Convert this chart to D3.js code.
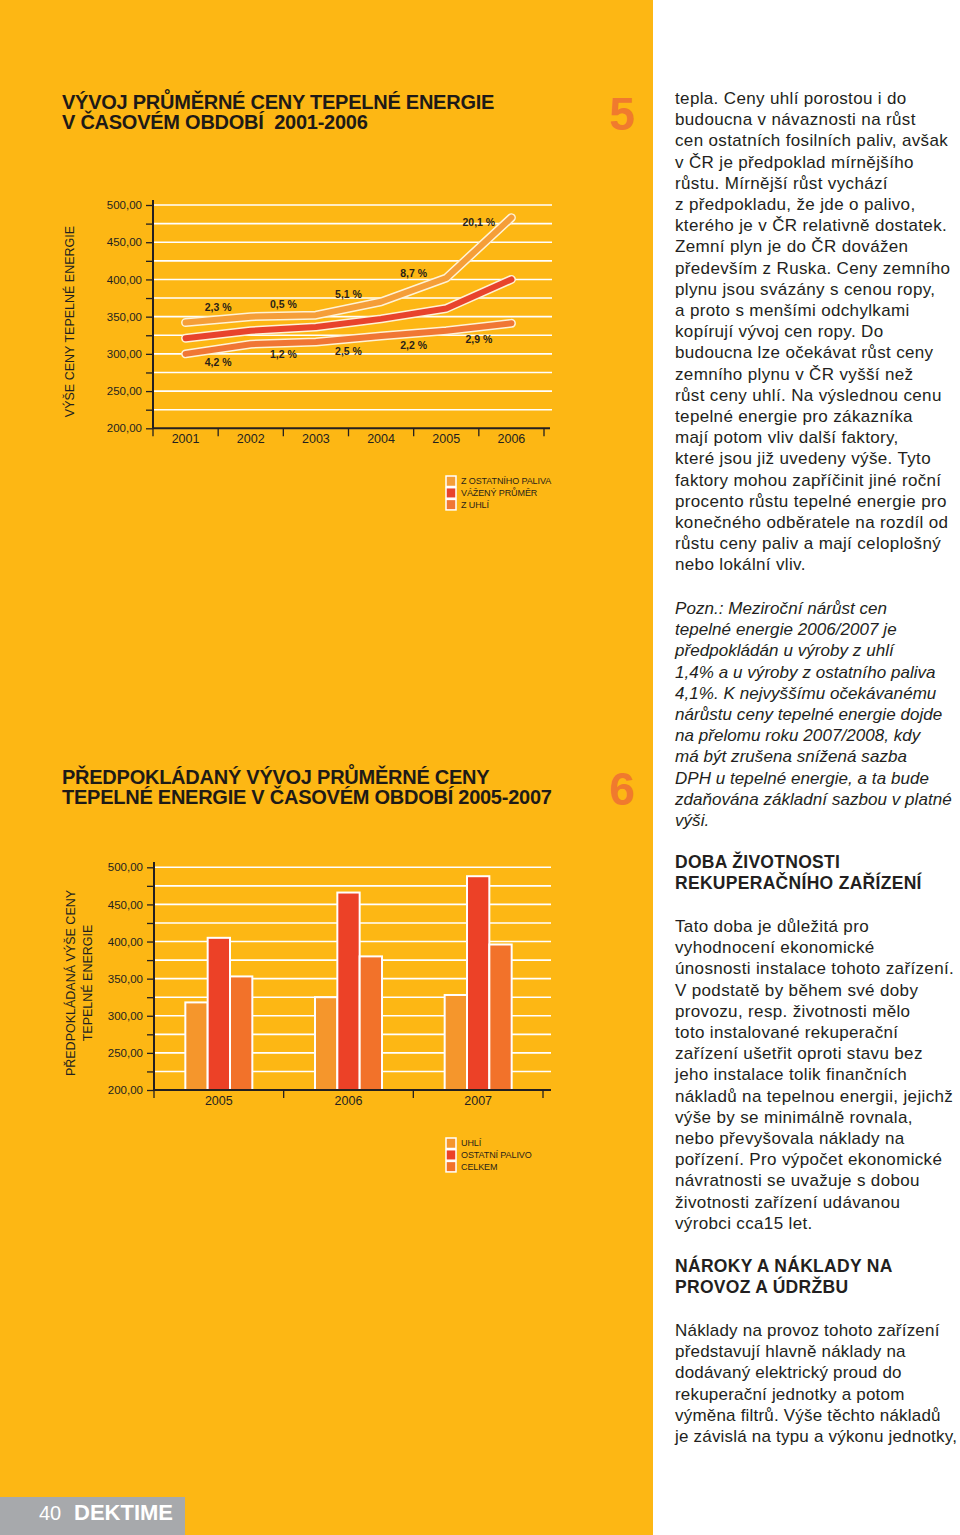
<!DOCTYPE html>
<html>
<head>
<meta charset="utf-8">
<script src="https://cdn.jsdelivr.net/npm/d3@7/dist/d3.min.js"></script>
<style>
html,body{margin:0;padding:0;background:#fff;}
svg{display:block;}
text{font-family:"Liberation Sans",Arial,Helvetica,sans-serif;white-space:pre;}
</style>
</head>
<body>
<script>
// ---------- DATA ----------
const years1 = ["2001","2002","2003","2004","2005","2006"];
const fuelOther = [342,350,352,370,402,483];     // Z OSTATNÍHO PALIVA
const weightedAvg = [321,331,336,347,361,400];   // VÁŽENÝ PRŮMĚR
const coal = [300,313,316,324,331,341];          // Z UHLÍ
const growthOther = ["2,3 %","0,5 %","5,1 %","8,7 %","20,1 %"];
const growthCoal = ["4,2 %","1,2 %","2,5 %","2,2 %","2,9 %"];
const legend1 = ["Z OSTATNÍHO PALIVA","VÁŽENÝ PRŮMĚR","Z UHLÍ"];

const years2 = ["2005","2006","2007"];
const coal2 = [318,325,328];        // UHLÍ
const other2 = [405,466,488];       // OSTATNÍ PALIVO
const total2 = [353,380,396];       // CELKEM
const legend2 = ["UHLÍ","OSTATNÍ PALIVO","CELKEM"];

const yTickValues = [200,250,300,350,400,450,500];
const yMinorValues = [200,225,250,275,300,325,350,375,400,425,450,475,500];

const textBlock1 = [
"tepla. Ceny uhlí porostou i do",
"budoucna v návaznosti na růst",
"cen ostatních fosilních paliv, avšak",
"v ČR je předpoklad mírnějšího",
"růstu. Mírnější růst vychází",
"z předpokladu, že jde o palivo,",
"kterého je v ČR relativně dostatek.",
"Zemní plyn je do ČR dovážen",
"především z Ruska. Ceny zemního",
"plynu jsou svázány s cenou ropy,",
"a proto s menšími odchylkami",
"kopírují vývoj cen ropy. Do",
"budoucna lze očekávat růst ceny",
"zemního plynu v ČR vyšší než",
"růst ceny uhlí. Na výslednou cenu",
"tepelné energie pro zákazníka",
"mají potom vliv další faktory,",
"které jsou již uvedeny výše. Tyto",
"faktory mohou zapříčinit jiné roční",
"procento růstu tepelné energie pro",
"konečného odběratele na rozdíl od",
"růstu ceny paliv a mají celoplošný",
"nebo lokální vliv."
];
const textNote = [
"Pozn.: Meziroční nárůst cen",
"tepelné energie 2006/2007 je",
"předpokládán u výroby z uhlí",
"1,4% a u výroby z ostatního paliva",
"4,1%. K nejvyššímu očekávanému",
"nárůstu ceny tepelné energie dojde",
"na přelomu roku 2007/2008, kdy",
"má být zrušena snížená sazba",
"DPH u tepelné energie, a ta bude",
"zdaňována základní sazbou v platné",
"výši."
];
const heading2 = ["DOBA ŽIVOTNOSTI","REKUPERAČNÍHO ZAŘÍZENÍ"];
const textBlock2 = [
"Tato doba je důležitá pro",
"vyhodnocení ekonomické",
"únosnosti instalace tohoto zařízení.",
"V podstatě by během své doby",
"provozu, resp. životnosti mělo",
"toto instalované rekuperační",
"zařízení ušetřit oproti stavu bez",
"jeho instalace tolik finančních",
"nákladů na tepelnou energii, jejichž",
"výše by se minimálně rovnala,",
"nebo převyšovala náklady na",
"pořízení. Pro výpočet ekonomické",
"návratnosti se uvažuje s dobou",
"životnosti zařízení udávanou",
"výrobci cca15 let."
];
const heading3 = ["NÁROKY A NÁKLADY NA","PROVOZ A ÚDRŽBU"];
const textBlock3 = [
"Náklady na provoz tohoto zařízení",
"představují hlavně náklady na",
"dodávaný elektrický proud do",
"rekuperační jednotky a potom",
"výměna filtrů. Výše těchto nákladů",
"je závislá na typu a výkonu jednotky,"
];

// ---------- STYLE ----------
const W = 960, H = 1535;
const YELLOW = "#FDB714";
const INK = "#231F20";
const C_OTHER = "#F59E38", C_AVG = "#E8432C", C_COAL = "#F07634";
const B_COAL = "#F5962C", B_OTHER = "#EC4127", B_TOTAL = "#F2722A";
const fmt = d => d.toFixed(2).replace(".", ",");

const svg = d3.select("body").append("svg").attr("width", W).attr("height", H);
svg.append("rect").attr("width", W).attr("height", H).attr("fill", "#fff");
svg.append("rect").attr("width", 653).attr("height", H).attr("fill", YELLOW);

// ---------- titles ----------
function lines(g, arr, x, y0, step, opts) {
  arr.forEach((t, i) => {
    const el = g.append("text").attr("x", x).attr("y", y0 + i * step).text(t)
      .attr("fill", opts.fill || INK).attr("font-size", opts.size)
      .attr("font-weight", opts.weight || "normal");
    if (opts.style) el.attr("font-style", opts.style);
    if (opts.ls) el.attr("letter-spacing", opts.ls);
  });
}
lines(svg, ["VÝVOJ PRŮMĚRNÉ CENY TEPELNÉ ENERGIE", "V ČASOVÉM OBDOBÍ  2001-2006"], 62, 109, 19.5,
  {size: 20, weight: "bold", ls: -0.25, fill: "#1e1a17"});
lines(svg, ["PŘEDPOKLÁDANÝ VÝVOJ PRŮMĚRNÉ CENY", "TEPELNÉ ENERGIE V ČASOVÉM OBDOBÍ 2005-2007"], 62, 784, 19.5,
  {size: 20, weight: "bold", ls: -0.25, fill: "#1e1a17"});

svg.append("text").attr("x", 622).attr("y", 130).attr("text-anchor", "middle")
  .attr("font-size", 46).attr("font-weight", "bold").attr("fill", "#F07A2E").text("5");
svg.append("text").attr("x", 622).attr("y", 805).attr("text-anchor", "middle")
  .attr("font-size", 46).attr("font-weight", "bold").attr("fill", "#F07A2E").text("6");

// ---------- common axis helper ----------
function yAxisGrid(g, y, x0, x1, yTop) {
  g.append("g").selectAll("line").data(yMinorValues.filter(v => v > 200)).join("line")
    .attr("x1", x0).attr("x2", x1).attr("y1", d => y(d)).attr("y2", d => y(d))
    .attr("stroke", "#fff").attr("stroke-width", 1.6);
  const ax = g.append("g").attr("transform", `translate(${x0},0)`)
    .call(d3.axisLeft(y).tickValues(yMinorValues).tickSize(7)
      .tickFormat(d => yTickValues.includes(d) ? fmt(d) : ""));
  ax.select(".domain").remove();
  ax.selectAll("line").attr("stroke", INK).attr("stroke-width", 1.3);
  ax.selectAll("text").attr("font-size", 11.5).attr("fill", INK)
    .attr("font-family", "'Liberation Sans',Arial,sans-serif").attr("dx", -1);
  g.append("line").attr("x1", x0).attr("x2", x0).attr("y1", yTop).attr("y2", y(200))
    .attr("stroke", INK).attr("stroke-width", 2);
}
function xAxis(g, x, yBase, xEnd, ticksAt) {
  g.append("line").attr("x1", x.range()[0]).attr("x2", xEnd).attr("y1", yBase).attr("y2", yBase)
    .attr("stroke", INK).attr("stroke-width", 2);
  g.append("g").selectAll("line").data(ticksAt).join("line")
    .attr("x1", d => d).attr("x2", d => d).attr("y1", yBase).attr("y2", yBase + 8)
    .attr("stroke", INK).attr("stroke-width", 1.3);
  g.append("g").selectAll("text").data(x.domain()).join("text")
    .attr("x", d => x(d) + x.bandwidth() / 2).attr("y", yBase + 15)
    .attr("text-anchor", "middle").attr("font-size", 12.5).attr("fill", INK).text(d => d);
}
function legend(g, labels, colors, x, y0) {
  labels.forEach((t, i) => {
    g.append("rect").attr("x", x).attr("y", y0 + i * 11.7 - 5).attr("width", 10).attr("height", 10.5)
      .attr("fill", colors[i]).attr("stroke", "#fff").attr("stroke-width", 1.5);
    g.append("text").attr("x", x + 15).attr("y", y0 + i * 11.7 + 3.3).attr("font-size", 9)
      .attr("letter-spacing", -0.1).attr("fill", "#2a1f18").text(t);
  });
}

// ---------- CHART 1 ----------
const g1 = svg.append("g");
const x1 = d3.scaleBand().domain(years1).range([153, 544]);
const y1 = d3.scaleLinear().domain([200, 500]).range([428.3, 205]);
yAxisGrid(g1, y1, 153, 552, 200);
xAxis(g1, x1, y1(200), 550, years1.map(d => x1(d)).concat([x1.range()[1]]));

g1.append("text").attr("transform", `translate(74,${(225 + 418) / 2}) rotate(-90)`)
  .attr("text-anchor", "middle").attr("font-size", 12.5).attr("fill", INK)
  .text("VÝŠE CENY TEPELNÉ ENERGIE");

const cx = d => x1(d) + x1.bandwidth() / 2;
const line1 = d3.line().x((d, i) => cx(years1[i])).y(d => y1(d));
[[coal, C_COAL], [weightedAvg, C_AVG], [fuelOther, C_OTHER]].forEach(([vals, col]) => {
  g1.append("path").attr("d", line1(vals)).attr("fill", "none").attr("stroke", "#FFF3D6")
    .attr("stroke-width", 9).attr("stroke-linecap", "round").attr("stroke-linejoin", "round");
  g1.append("path").attr("d", line1(vals)).attr("fill", "none").attr("stroke", col)
    .attr("stroke-width", 6).attr("stroke-linecap", "round").attr("stroke-linejoin", "round");
});
// growth labels at the boundaries between years
growthOther.forEach((t, i) => {
  const a = y1(fuelOther[i]), b = y1(fuelOther[i + 1]);
  const yy = (a + b) / 2 - (11 + 0.25 * Math.abs(a - b));
  g1.append("text").attr("x", x1(years1[i + 1])).attr("y", yy + 3.8).attr("text-anchor", "middle")
    .attr("font-size", 10.5).attr("font-weight", "bold").attr("fill", "#2a1f18").text(t);
});
growthCoal.forEach((t, i) => {
  const a = y1(coal[i]), b = y1(coal[i + 1]);
  const yy = (a + b) / 2 + 10 + 0.3 * Math.abs(a - b);
  g1.append("text").attr("x", x1(years1[i + 1])).attr("y", yy + 3.8).attr("text-anchor", "middle")
    .attr("font-size", 10.5).attr("font-weight", "bold").attr("fill", "#2a1f18").text(t);
});
legend(g1, legend1, [C_OTHER, C_AVG, C_COAL], 446, 481);

// ---------- CHART 2 ----------
const g2 = svg.append("g");
const x2 = d3.scaleBand().domain(years2).range([154, 543]);
const y2 = d3.scaleLinear().domain([200, 500]).range([1090, 867.3]);
yAxisGrid(g2, y2, 154, 551, 862);

const series2 = [
  {key: "UHLÍ", vals: coal2, col: B_COAL},
  {key: "OSTATNÍ PALIVO", vals: other2, col: B_OTHER},
  {key: "CELKEM", vals: total2, col: B_TOTAL}
];
const groupW = 67;
const xs = d3.scaleBand().domain(series2.map(s => s.key)).range([0, groupW]);
series2.forEach(s => {
  g2.append("g").selectAll("rect").data(years2).join("rect")
    .attr("x", d => x2(d) + (x2.bandwidth() - groupW) / 2 + xs(s.key))
    .attr("y", (d, i) => y2(s.vals[i]))
    .attr("width", xs.bandwidth())
    .attr("height", (d, i) => y2(200) - y2(s.vals[i]))
    .attr("fill", s.col).attr("stroke", "#fff").attr("stroke-width", 2);
});
xAxis(g2, x2, y2(200), 551, years2.map(d => x2(d)).concat([x2.range()[1]]));

g2.append("text").attr("transform", `translate(75,983) rotate(-90)`)
  .attr("text-anchor", "middle").attr("font-size", 12.5).attr("fill", INK)
  .text("PŘEDPOKLÁDANÁ VÝŠE CENY");
g2.append("text").attr("transform", `translate(92,983) rotate(-90)`)
  .attr("text-anchor", "middle").attr("font-size", 12.5).attr("fill", INK)
  .text("TEPELNÉ ENERGIE");
legend(g2, legend2, [B_COAL, B_OTHER, B_TOTAL], 446, 1143);

// ---------- right column text ----------
const STEP = 21.2;
lines(svg, textBlock1, 675, 104, STEP, {size: 17, ls: 0.35});
lines(svg, textNote, 675, 614, STEP, {size: 17, style: "italic", ls: 0.05});
lines(svg, heading2, 675, 868, STEP, {size: 17.5, weight: "bold", ls: 0.3});
lines(svg, textBlock2, 675, 932, STEP, {size: 17, ls: 0.35});
lines(svg, heading3, 675, 1272, STEP, {size: 17.5, weight: "bold", ls: 0.3});
lines(svg, textBlock3, 675, 1336, STEP, {size: 17, ls: 0.2});

// ---------- footer ----------
svg.append("rect").attr("x", 0).attr("y", 1497).attr("width", 185).attr("height", 38).attr("fill", "#A7A9AC");
svg.append("text").attr("x", 39).attr("y", 1520).attr("font-size", 20).attr("fill", "#fff").text("40");
svg.append("text").attr("x", 74).attr("y", 1520).attr("font-size", 22).attr("font-weight", "bold")
  .attr("fill", "#fff").text("DEKTIME");
</script>
</body>
</html>
